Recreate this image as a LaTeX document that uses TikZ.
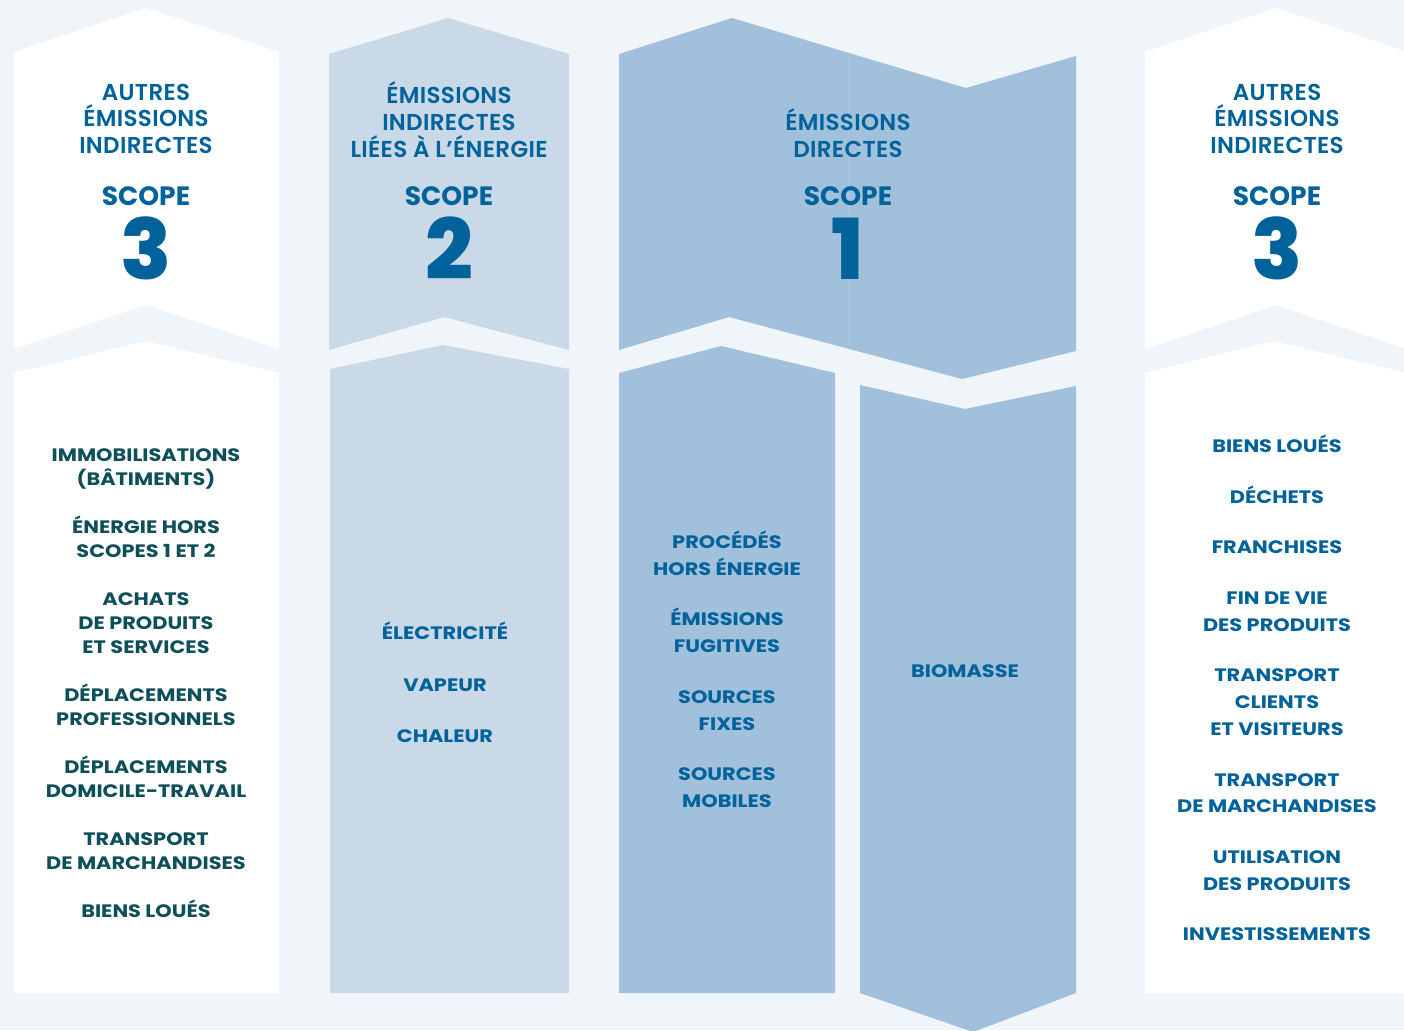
\documentclass[tikz,border=0pt]{standalone}
\usepackage{fontspec}
\setmainfont{Poppins}
\newfontfamily\pophdr{Poppins SemiBold}[LetterSpace=1.5]
\newfontfamily\popscope{Poppins Bold}
\newfontfamily\popitem{Poppins Bold}[FakeStretch=1.16]
\newfontfamily\popxb{Poppins ExtraBold}
\definecolor{bgc}{HTML}{F0F5FA}
\definecolor{colB}{HTML}{C9D9E8}
\definecolor{colC}{HTML}{A0C0DB}
\definecolor{seam}{HTML}{A9C7E0}
\definecolor{txtblue}{HTML}{00629A}
\definecolor{txtteal}{HTML}{0E4F5A}
\tikzset{
  hdr/.style={anchor=base, text=txtblue, font=\pophdr\fontsize{23}{26}\selectfont, inner sep=0pt},
  scopelbl/.style={anchor=base, text=txtblue, font=\popscope\fontsize{26.5}{30}\selectfont, inner sep=0pt},
  digit/.style={anchor=base, text=txtblue, font=\popxb\fontsize{84}{90}\selectfont, inner sep=0pt},
  itemA/.style={anchor=base, text=txtteal, font=\popitem\fontsize{18}{24}\selectfont, inner sep=0pt},
  itemB/.style={anchor=base, text=txtblue, font=\popitem\fontsize{18}{24}\selectfont, inner sep=0pt}
}
\begin{document}
\begin{tikzpicture}[x=1pt,y=-1pt]
\fill[bgc] (0,0) rectangle (1404,1030);
\useasboundingbox (0,0) rectangle (1404,1030);
\clip (0,0) rectangle (1404,1030);
% column 1 (white)
\fill[white] (14,52) -- (146,8) -- (279,52) -- (279,349) -- (146,305) -- (14,349) -- cycle;
\fill[white] (14,373) -- (146,341) -- (279,373) -- (279,993) -- (14,993) -- cycle;
% column 2
\fill[colB] (329,54) -- (448,18) -- (569,54) -- (569,350) -- (444,317) -- (329,350) -- cycle;
\fill[colB] (330,369) -- (443,345) -- (569,369) -- (569,993) -- (330,993) -- cycle;
% column 3
\fill[colC] (619,54) -- (732,18) -- (966,88) -- (1076,56) -- (1076,351) -- (962,379) -- (729,317) -- (619,350) -- cycle;
\draw[seam, line width=0.8pt] (848,53) -- (848,349);
\fill[colC] (619,373) -- (721,346) -- (835,373) -- (835,993) -- (619,993) -- cycle;
\fill[colC] (860,385) -- (965,409) -- (1076,386) -- (1076,993) -- (973,1032) -- (860,993) -- cycle;
% column 4 (white)
\fill[white] (1145,52) -- (1276,8) -- (1407,52) -- (1407,349) -- (1276,305) -- (1145,349) -- cycle;
\fill[white] (1145,373) -- (1274,341) -- (1407,373) -- (1407,993) -- (1145,993) -- cycle;

% headers
\node[hdr] (h1a) at (146,101) {AUTRES};
\node[hdr] (h1b) at (146,127) {ÉMISSIONS};
\node[hdr] (h1c) at (146,153) {INDIRECTES};
\node[scopelbl] (s1) at (146,205) {SCOPE};
\node[digit] (d1) at (146,279) {3};

\node[hdr] (h2a) at (449,104) {ÉMISSIONS};
\node[hdr] (h2b) at (449,130) {INDIRECTES};
\node[hdr] (h2c) at (449,157) {LIÉES À L’ÉNERGIE};
\node[scopelbl] (s2) at (449,205) {SCOPE};
\node[digit] (d2) at (449,279) {2};

\node[hdr] (h3a) at (848,131) {ÉMISSIONS};
\node[hdr] (h3b) at (848,157) {DIRECTES};
\node[scopelbl] (s3) at (848,205) {SCOPE};
\node[digit] (d3) at (848,279) {1};

\node[hdr] (h4a) at (1277,101) {AUTRES};
\node[hdr] (h4b) at (1277,127) {ÉMISSIONS};
\node[hdr] (h4c) at (1277,153) {INDIRECTES};
\node[scopelbl] (s4) at (1277,205) {SCOPE};
\node[digit] (d4) at (1277,279) {3};

% column 1 list
\node[itemA] (a1) at (146,461.5) {IMMOBILISATIONS};
\node[itemA] (a2) at (146,485.5) {(BÂTIMENTS)};
\node[itemA] (a3) at (146,533.5) {ÉNERGIE HORS};
\node[itemA] (a4) at (146,557.5) {SCOPES 1 ET 2};
\node[itemA] (a5) at (146,605.5) {ACHATS};
\node[itemA] (a6) at (146,629.5) {DE PRODUITS};
\node[itemA] (a7) at (146,653.5) {ET SERVICES};
\node[itemA] (a8) at (146,701.5) {DÉPLACEMENTS};
\node[itemA] (a9) at (146,725.5) {PROFESSIONNELS};
\node[itemA] (a10) at (146,773.5) {DÉPLACEMENTS};
\node[itemA] (a11) at (146,797.5) {DOMICILE-TRAVAIL};
\node[itemA] (a12) at (146,845.5) {TRANSPORT};
\node[itemA] (a13) at (146,869.5) {DE MARCHANDISES};
\node[itemA] (a14) at (146,917.5) {BIENS LOUÉS};

% column 2 list
\node[itemB] (b1) at (445,639.5) {ÉLECTRICITÉ};
\node[itemB] (b2) at (445,691.5) {VAPEUR};
\node[itemB] (b3) at (445,742.5) {CHALEUR};

% column 3 lists
\node[itemB] (c1) at (727,548.5) {PROCÉDÉS};
\node[itemB] (c2) at (727,575.5) {HORS ÉNERGIE};
\node[itemB] (c3) at (727,625.5) {ÉMISSIONS};
\node[itemB] (c4) at (727,652.5) {FUGITIVES};
\node[itemB] (c5) at (727,703.5) {SOURCES};
\node[itemB] (c6) at (727,730.5) {FIXES};
\node[itemB] (c7) at (727,780.5) {SOURCES};
\node[itemB] (c8) at (727,807.5) {MOBILES};
\node[itemB] (c9) at (965,677.5) {BIOMASSE};

% column 4 list
\node[itemB] (e1) at (1277,452.5) {BIENS LOUÉS};
\node[itemB] (e2) at (1277,503.5) {DÉCHETS};
\node[itemB] (e3) at (1277,553.5) {FRANCHISES};
\node[itemB] (e4) at (1277,604.5) {FIN DE VIE};
\node[itemB] (e5) at (1277,631.5) {DES PRODUITS};
\node[itemB] (e6) at (1277,681.5) {TRANSPORT};
\node[itemB] (e7) at (1277,708.5) {CLIENTS};
\node[itemB] (e8) at (1277,735.5) {ET VISITEURS};
\node[itemB] (e9) at (1277,786.5) {TRANSPORT};
\node[itemB] (e10) at (1277,812.5) {DE MARCHANDISES};
\node[itemB] (e11) at (1277,863.5) {UTILISATION};
\node[itemB] (e12) at (1277,890.5) {DES PRODUITS};
\node[itemB] (e13) at (1277,940.5) {INVESTISSEMENTS};
\end{tikzpicture}
\end{document}
